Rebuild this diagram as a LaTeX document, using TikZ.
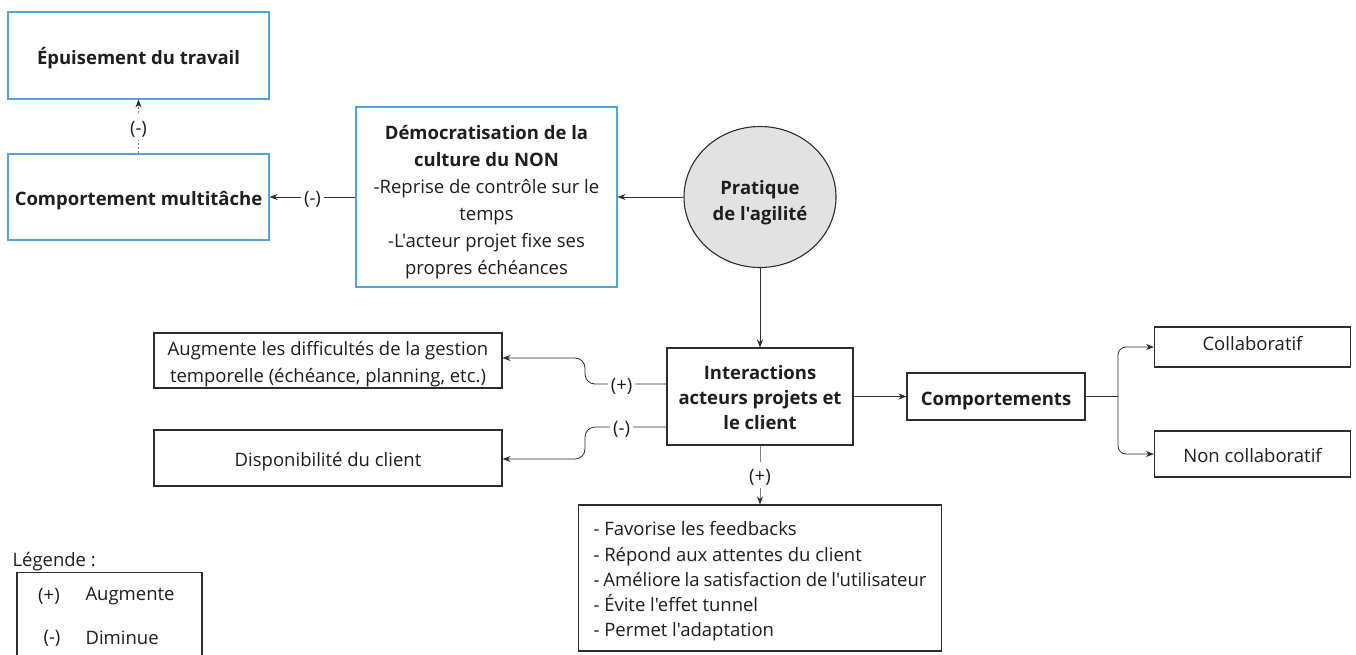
\documentclass[tikz,border=0pt]{standalone}
\usepackage{fontspec}
\setmainfont{Open Sans}[Ligatures=TeXOff]
\usetikzlibrary{arrows.meta,calc,shapes.geometric}
\definecolor{bluebd}{RGB}{84,162,222}
\definecolor{txt}{RGB}{30,30,30}
\definecolor{ln}{RGB}{45,45,45}
\definecolor{circfill}{RGB}{226,226,226}
\newcommand{\shiftt}[2]{\raisebox{#1}[\height][\depth]{\begin{tabular}{@{}c@{}}#2\end{tabular}}}
\newcommand{\dn}[1]{\shiftt{-3.5pt}{#1}}
\tikzset{
  base/.style={draw, line width=1.1pt, inner sep=0pt, text=txt, align=center},
  bluebox/.style={base, draw=bluebd},
  blackbox/.style={base, draw=ln},
  conn/.style={draw=ln, line width=0.8pt, -{Stealth[length=8pt,width=6pt,color=ln]}},
  lbl/.style={fill=white, inner sep=3pt, text=txt, font=\fontsize{18.5}{20}\selectfont},
  nrm/.style={font=\fontsize{18.5}{27}\selectfont},
  bld/.style={font=\fontsize{18.5}{27}\selectfont\bfseries},
}
\begin{document}
\begin{tikzpicture}[x=1pt,y=-1pt]
\useasboundingbox[fill=white] (0,0) rectangle (1356,654);

% nodes
\node[bluebox, bld, minimum width=261pt, minimum height=87pt] (epu) at (138.5,55.5) {\dn{Épuisement du travail}};
\node[bluebox, bld, minimum width=261pt, minimum height=86pt] (multi) at (138.5,197) {\dn{Comportement multitâche}};
\node[bluebox, minimum width=261pt, minimum height=180pt, font=\fontsize{18.5}{27}\selectfont] (demo) at (486.5,197)
  {\shiftt{-5pt}{\textbf{Démocratisation de la}\\\textbf{culture du NON}\\-Reprise de contrôle sur le\\temps\\-L'acteur projet fixe ses\\propres échéances}};
\node[ellipse, draw=ln, line width=1.1pt, fill=circfill, minimum width=152pt, minimum height=141pt, inner sep=0pt,
  text=txt, align=center, font=\fontsize{18.5}{26}\selectfont\bfseries] (prat) at (760,197) {\shiftt{-5pt}{Pratique\\de l'agilité}};
\node[blackbox, minimum width=186pt, minimum height=97pt, font=\fontsize{18.5}{25}\selectfont\bfseries] (inter) at (760,396.5)
  {\shiftt{-2.5pt}{Interactions\\acteurs projets et\\le client}};
\node[blackbox, minimum width=348pt, minimum height=55pt, font=\fontsize{18.5}{27}\selectfont] (augm) at (328,360.5)
  {\dn{Augmente les difficultés de la gestion\\temporelle (échéance, planning, etc.)}};
\node[blackbox, nrm, minimum width=348pt, minimum height=56pt] (dispo) at (328,458) {\dn{Disponibilité du client}};
\node[blackbox, bld, minimum width=178pt, minimum height=47pt] (comp) at (996,396.5) {\dn{Comportements}};
\node[blackbox, nrm, minimum width=196pt, minimum height=40pt] (colla) at (1252.5,347) {\shiftt{2pt}{Collaboratif}};
\node[blackbox, nrm, minimum width=196pt, minimum height=46pt] (noncolla) at (1252.5,454) {\dn{Non collaboratif}};
\node[blackbox, minimum width=363pt, minimum height=146pt, align=left, font=\fontsize{18.5}{25.2}\selectfont] (feed) at (760,578)
  {\raisebox{-3.5pt}[\height][\depth]{\parbox{333pt}{- Favorise les feedbacks\\- Répond aux attentes du client\\- Améliore la satisfaction de l'utilisateur\\- Évite l'effet tunnel\\- Permet l'adaptation}}};

% connectors
\draw[conn] (prat.west) -- (demo.east);
\draw[conn] (demo.west) -- node[lbl] {\dn{(-)}} (multi.east);
\draw[conn, draw=gray, dash pattern=on 2pt off 2pt] (multi.north) -- node[lbl] {\dn{(-)}} (epu.south);
\draw[conn] (prat.south) -- (inter.north);
\draw[conn] (inter.east) -- (comp.west);
\draw[conn, draw=gray] (inter.south) -- node[lbl] {\dn{(+)}} (feed.north);

\coordinate (ip) at ($(inter.west)+(0,-12.5)$);
\coordinate (im) at ($(inter.west)+(0,30.5)$);
\draw[conn, rounded corners=10pt] (ip) -- node[lbl, pos=0.55] {\dn{(+)}} (585,384) -- (585,358) -- (augm.east |- 0,358);
\draw[conn, rounded corners=10pt] (im) -- node[lbl, pos=0.55] {\dn{(-)}} (585,427) -- (585,459) -- (dispo.east |- 0,459);

\coordinate (split) at (1118,396.5);
\draw[conn, -] (comp.east) -- (split);
\draw[conn, rounded corners=8pt] (split) -- (1118,347) -- (colla.west);
\draw[conn, rounded corners=8pt] (split) -- (1118,454) -- (noncolla.west);

% legend
\node[anchor=west, text=txt, font=\fontsize{18.5}{20}\selectfont] (legt) at (9,562) {Légende :};
\draw[draw=ln, line width=1.1pt] (17,660) -- (17,572.5) -- (202,572.5) -- (202,660);
\node[text=txt, font=\fontsize{18.5}{20}\selectfont] (lp) at (49,596.5) {(+)};
\node[anchor=west, text=txt, font=\fontsize{18.5}{20}\selectfont] (lpa) at (82,596.5) {Augmente};
\node[text=txt, font=\fontsize{18.5}{20}\selectfont] (lm) at (52,638) {(-)};
\node[anchor=west, text=txt, font=\fontsize{18.5}{20}\selectfont] (lma) at (82,638) {Diminue};
\end{tikzpicture}
\end{document}
